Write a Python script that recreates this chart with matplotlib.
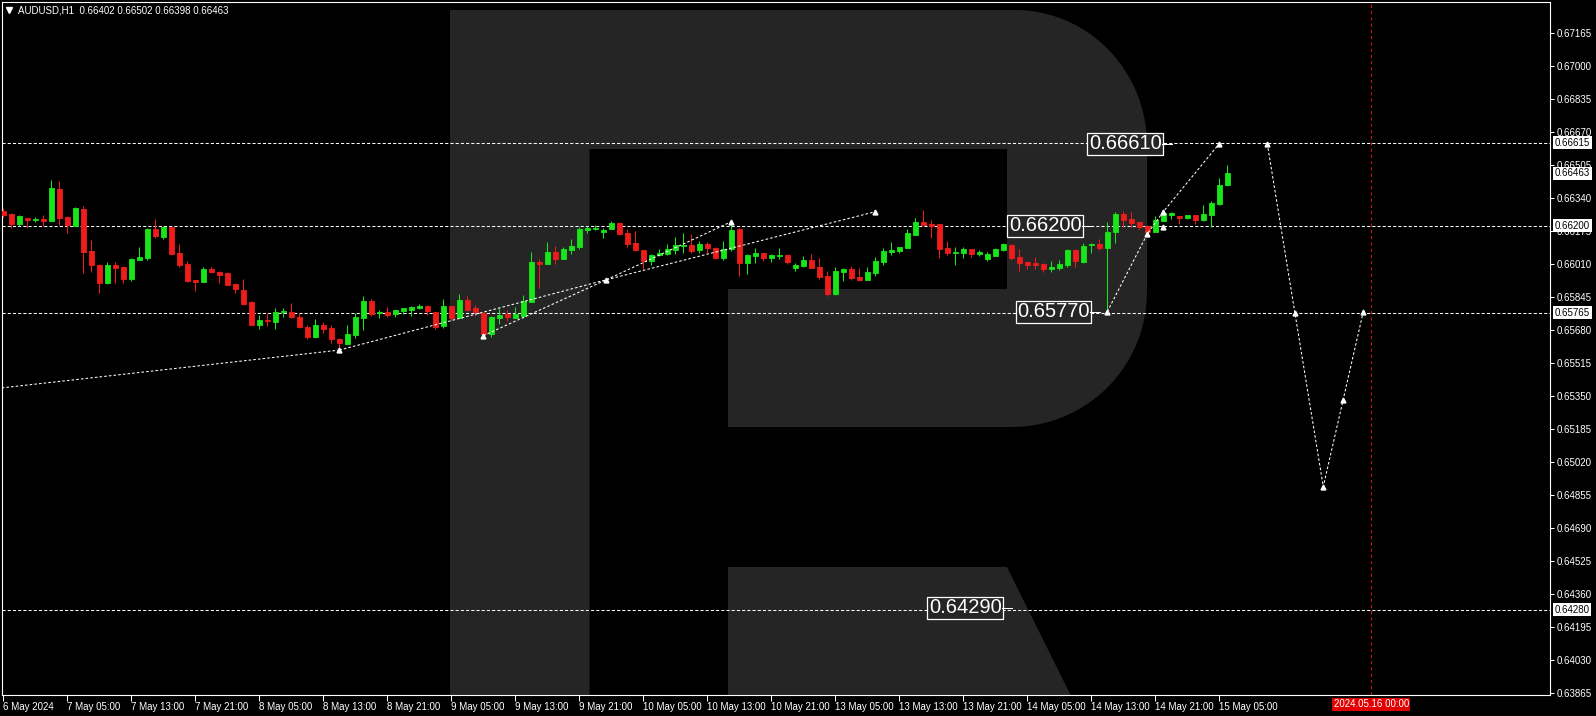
import matplotlib
matplotlib.use("Agg")
import matplotlib.pyplot as plt
import matplotlib.transforms as mtransforms
from matplotlib.patches import Polygon
import numpy as np

plt.rcParams['font.family'] = ['Liberation Sans', 'DejaVu Sans']

# AUDUSD H1 bars, 6 May 21:00 .. 15 May 06:00
opens = [
    0.66274, 0.66259, 0.66209, 0.66237, 0.66230, 0.66234, 0.66224, 0.66384, 0.66244, 0.66200,
    0.66284, 0.66074, 0.66004, 0.65915, 0.66004, 0.65994, 0.65935, 0.66030, 0.66040, 0.66184,
    0.66142, 0.66194, 0.66064, 0.66009, 0.65929, 0.65920, 0.65984, 0.65969, 0.65964, 0.65909,
    0.65879, 0.65819, 0.65704, 0.65729, 0.65719, 0.65767, 0.65769, 0.65744, 0.65694, 0.65645,
    0.65704, 0.65689, 0.65634, 0.65610, 0.65655, 0.65740, 0.65824, 0.65762, 0.65769, 0.65757,
    0.65774, 0.65780, 0.65790, 0.65799, 0.65767, 0.65699, 0.65799, 0.65740, 0.65829, 0.65790,
    0.65765, 0.65659, 0.65740, 0.65760, 0.65739, 0.65750, 0.65820, 0.66019, 0.66010, 0.66069,
    0.66035, 0.66079, 0.66094, 0.66179, 0.66184, 0.66169, 0.66185, 0.66214, 0.66164, 0.66114,
    0.66079, 0.66025, 0.66054, 0.66059, 0.66079, 0.66099, 0.66104, 0.66079, 0.66109, 0.66089,
    0.66040, 0.66084, 0.66184, 0.66014, 0.66049, 0.66064, 0.66039, 0.66049, 0.66054, 0.65990,
    0.65999, 0.66029, 0.65994, 0.65949, 0.65859, 0.65969, 0.65984, 0.65944, 0.65929, 0.65964,
    0.66019, 0.66069, 0.66074, 0.66089, 0.66155, 0.66219, 0.66209, 0.66209, 0.66090, 0.66065,
    0.66065, 0.66085, 0.66060, 0.66035, 0.66050, 0.66080, 0.66105, 0.66045, 0.66020, 0.66015,
    0.66010, 0.65985, 0.65990, 0.66005, 0.66080, 0.66020, 0.66102, 0.66110, 0.66090, 0.66170,
    0.66260, 0.66235, 0.66220, 0.66199, 0.66170, 0.66225, 0.66255, 0.66250, 0.66240, 0.66255,
    0.66230, 0.66255, 0.66310, 0.66402]
highs = [
    0.66287, 0.66262, 0.66254, 0.66237, 0.66244, 0.66254, 0.66429, 0.66424, 0.66249, 0.66295,
    0.66299, 0.66129, 0.66007, 0.66017, 0.66017, 0.65999, 0.66040, 0.66094, 0.66189, 0.66234,
    0.66200, 0.66194, 0.66107, 0.66024, 0.65929, 0.65992, 0.65992, 0.65974, 0.65969, 0.65915,
    0.65934, 0.65824, 0.65754, 0.65762, 0.65790, 0.65790, 0.65815, 0.65765, 0.65702, 0.65734,
    0.65719, 0.65704, 0.65637, 0.65704, 0.65762, 0.65849, 0.65832, 0.65779, 0.65794, 0.65779,
    0.65789, 0.65799, 0.65809, 0.65804, 0.65767, 0.65834, 0.65799, 0.65859, 0.65849, 0.65804,
    0.65770, 0.65749, 0.65789, 0.65779, 0.65794, 0.65854, 0.66069, 0.66034, 0.66119, 0.66099,
    0.66092, 0.66134, 0.66192, 0.66199, 0.66204, 0.66187, 0.66224, 0.66219, 0.66182, 0.66174,
    0.66079, 0.66059, 0.66084, 0.66109, 0.66144, 0.66164, 0.66159, 0.66124, 0.66119, 0.66094,
    0.66124, 0.66215, 0.66189, 0.66059, 0.66089, 0.66069, 0.66059, 0.66089, 0.66059, 0.66014,
    0.66049, 0.66059, 0.66039, 0.65974, 0.65994, 0.65989, 0.65999, 0.65989, 0.65994, 0.66044,
    0.66089, 0.66119, 0.66094, 0.66184, 0.66239, 0.66279, 0.66229, 0.66209, 0.66125, 0.66095,
    0.66095, 0.66085, 0.66080, 0.66070, 0.66090, 0.66115, 0.66110, 0.66085, 0.66025, 0.66045,
    0.66015, 0.66025, 0.66030, 0.66085, 0.66085, 0.66115, 0.66115, 0.66135, 0.66219, 0.66270,
    0.66275, 0.66270, 0.66220, 0.66205, 0.66250, 0.66275, 0.66270, 0.66250, 0.66255, 0.66255,
    0.66305, 0.66325, 0.66440, 0.66502]
lows = [
    0.66245, 0.66190, 0.66199, 0.66190, 0.66220, 0.66199, 0.66224, 0.66204, 0.66165, 0.66200,
    0.65965, 0.65970, 0.65862, 0.65907, 0.65915, 0.65915, 0.65925, 0.66027, 0.66027, 0.66140,
    0.66135, 0.66060, 0.65995, 0.65920, 0.65875, 0.65920, 0.65962, 0.65915, 0.65905, 0.65865,
    0.65804, 0.65704, 0.65682, 0.65699, 0.65682, 0.65745, 0.65737, 0.65687, 0.65634, 0.65640,
    0.65662, 0.65615, 0.65579, 0.65610, 0.65637, 0.65679, 0.65750, 0.65740, 0.65745, 0.65745,
    0.65760, 0.65750, 0.65784, 0.65755, 0.65684, 0.65690, 0.65729, 0.65740, 0.65772, 0.65750,
    0.65645, 0.65645, 0.65710, 0.65725, 0.65739, 0.65739, 0.65820, 0.65890, 0.66010, 0.66010,
    0.66035, 0.66060, 0.66085, 0.66162, 0.66179, 0.66140, 0.66185, 0.66160, 0.66095, 0.66075,
    0.65984, 0.66005, 0.66047, 0.66054, 0.66059, 0.66064, 0.66064, 0.66062, 0.66065, 0.66040,
    0.66030, 0.66074, 0.65949, 0.65959, 0.66014, 0.66024, 0.66019, 0.66034, 0.66009, 0.65974,
    0.65994, 0.65989, 0.65934, 0.65849, 0.65854, 0.65924, 0.65929, 0.65924, 0.65929, 0.65949,
    0.66004, 0.66054, 0.66064, 0.66089, 0.66155, 0.66204, 0.66140, 0.66040, 0.66055, 0.66005,
    0.66040, 0.66045, 0.66050, 0.66025, 0.66050, 0.66075, 0.66030, 0.65975, 0.65985, 0.65985,
    0.65970, 0.65970, 0.65980, 0.65995, 0.65995, 0.66015, 0.66065, 0.66080, 0.65770, 0.66115,
    0.66195, 0.66195, 0.66185, 0.66150, 0.66170, 0.66225, 0.66235, 0.66210, 0.66235, 0.66210,
    0.66225, 0.66195, 0.66305, 0.66398]
closes = [
    0.66254, 0.66209, 0.66249, 0.66229, 0.66234, 0.66224, 0.66389, 0.66240, 0.66202, 0.66289,
    0.66070, 0.66004, 0.65915, 0.66004, 0.65990, 0.65935, 0.66034, 0.66045, 0.66184, 0.66150,
    0.66194, 0.66060, 0.66005, 0.65925, 0.65920, 0.65984, 0.65970, 0.65955, 0.65905, 0.65882,
    0.65810, 0.65704, 0.65729, 0.65724, 0.65769, 0.65774, 0.65745, 0.65695, 0.65645, 0.65704,
    0.65684, 0.65632, 0.65615, 0.65659, 0.65744, 0.65824, 0.65760, 0.65770, 0.65755, 0.65779,
    0.65789, 0.65794, 0.65800, 0.65772, 0.65695, 0.65799, 0.65740, 0.65829, 0.65779, 0.65767,
    0.65659, 0.65744, 0.65754, 0.65744, 0.65760, 0.65824, 0.66019, 0.66010, 0.66069, 0.66035,
    0.66084, 0.66099, 0.66184, 0.66190, 0.66189, 0.66180, 0.66214, 0.66160, 0.66110, 0.66080,
    0.66025, 0.66054, 0.66064, 0.66084, 0.66104, 0.66104, 0.66074, 0.66109, 0.66089, 0.66040,
    0.66084, 0.66179, 0.66014, 0.66054, 0.66064, 0.66039, 0.66054, 0.66054, 0.66019, 0.66004,
    0.66029, 0.65989, 0.65944, 0.65859, 0.65974, 0.65984, 0.65939, 0.65929, 0.65969, 0.66024,
    0.66074, 0.66079, 0.66094, 0.66164, 0.66219, 0.66204, 0.66200, 0.66085, 0.66065, 0.66070,
    0.66085, 0.66060, 0.66070, 0.66060, 0.66085, 0.66110, 0.66040, 0.66015, 0.66005, 0.66005,
    0.65985, 0.65995, 0.66010, 0.66080, 0.66025, 0.66100, 0.66110, 0.66090, 0.66170, 0.66260,
    0.66230, 0.66215, 0.66195, 0.66170, 0.66230, 0.66265, 0.66265, 0.66240, 0.66255, 0.66230,
    0.66260, 0.66315, 0.66405, 0.66463]

tick_idx = [0, 8, 16, 24, 32, 40, 48, 56, 64, 72, 80, 88, 96, 104, 112, 120, 128, 136, 144, 152]
tick_labels = ["6 May 2024", "7 May 05:00", "7 May 13:00", "7 May 21:00", "8 May 05:00",
               "8 May 13:00", "8 May 21:00", "9 May 05:00", "9 May 13:00", "9 May 21:00",
               "10 May 05:00", "10 May 13:00", "10 May 21:00", "13 May 05:00", "13 May 13:00",
               "13 May 21:00", "14 May 05:00", "14 May 13:00", "14 May 21:00", "15 May 05:00"]
price_ticks = [0.67165, 0.67000, 0.66835, 0.66670, 0.66505, 0.66340, 0.66175, 0.66010,
               0.65845, 0.65680, 0.65515, 0.65350, 0.65185, 0.65020, 0.64855, 0.64690,
               0.64525, 0.64360, 0.64195, 0.64030, 0.63865]

# horizontal levels and current bid
level_prices = [0.66615, 0.66200, 0.65765, 0.64280]
bid = 0.66463

# future separator
sep_idx = 171
sep_label = "2024.05.16 00:00"

# text labels on the chart
label_text = ["0.66610", "0.66200", "0.65770", "0.64290"]
label_price = [0.66610, 0.66200, 0.65770, 0.64290]
label_right = [144.8, 134.8, 135.8, 124.8]

# old wave markup
old_segments = [
    ([-0.2, 42.0], [0.65389, 0.65578]),
    ([42.0, 75.4], [0.65578, 0.65930]),
    ([60.0, 75.4], [0.65650, 0.65930]),
    ([75.4, 91.0], [0.65930, 0.66220]),
    ([75.4, 109.0], [0.65930, 0.66270]),
]
old_mark_x = [42.0, 60.0, 75.4, 91.0, 109.0]
old_mark_y = [0.65578, 0.65650, 0.65930, 0.66220, 0.66270]

# forecast
fc_up_x = [138, 143, 145, 152]
fc_up_y = [0.65770, 0.66159, 0.66270, 0.66610]
fc_down_x = [158, 165, 170]
fc_down_y = [0.66610, 0.64895, 0.65770]
fc_mark_x = [138, 143, 145, 145, 152, 158, 161.5, 165, 167.5, 170]
fc_mark_y = [0.65770, 0.66159, 0.66270, 0.66195, 0.66610, 0.66610, 0.65765, 0.64895, 0.65330, 0.65770]

BULL = '#19e619'
BEAR = '#f01c1c'
LOGO = '#252525'
W, H = 1596, 716

fig = plt.figure(figsize=(W / 100, H / 100), dpi=100, facecolor='black')
ax = fig.add_axes([2 / W, 21 / H, 1548 / W, 693 / H])
ax.set_facecolor('black')
ax.set_xlim(-0.1625, 193.34)
ax.set_ylim(0.638535, 0.673185)

# watermark R in figure pixels (y down)
px = mtransforms.Affine2D().scale(1 / W, -1 / H).translate(0, 1) + fig.transFigure
t1 = np.linspace(np.pi / 2, 0, 24)
t2 = np.linspace(0, -np.pi / 2, 24)
outer = [(450, 10)]
outer += list(zip(1015 + 132 * np.cos(t1), 145 - 135 * np.sin(t1)))
outer += list(zip(1012 + 135 * np.cos(t2), 292 - 135 * np.sin(t2)))
outer += [(728, 427), (728, 289), (1007, 289), (1007, 149), (589.5, 149), (589.5, 720), (450, 720)]
leg = [(728, 567), (1007, 567), (1083, 720), (728, 720)]
for pts in (outer, leg):
    ax.add_patch(Polygon(pts, closed=True, fc=LOGO, ec='none', transform=px, zorder=0.5))

# level lines
for p in level_prices:
    ax.axhline(p, color='white', lw=0.75, ls=(0, (3, 2)), zorder=2)
ax.axvline(sep_idx, color='#d81010', lw=0.75, ls=(0, (3, 3)), zorder=2)

# candles
o = np.array(opens)
c = np.array(closes)
idx = np.arange(len(o))
cols = [BULL if cc >= oo else BEAR for oo, cc in zip(o, c)]
ax.vlines(idx, lows, highs, colors=cols, lw=0.75, zorder=3)
ax.bar(idx, np.abs(c - o), bottom=np.minimum(o, c), width=0.56, color=cols,
       edgecolor=cols, linewidth=0.6, zorder=4)

# old markup + forecast
for xs, ys in old_segments:
    ax.plot(xs, ys, color='white', lw=0.75, ls=(0, (2.5, 2)), zorder=5)
ax.plot(old_mark_x, old_mark_y, ls='none', marker='^', ms=3.5, color='white', zorder=5)
ax.plot(fc_up_x, fc_up_y, color='white', lw=0.75, ls=(0, (2.5, 2)), zorder=5)
ax.plot(fc_down_x, fc_down_y, color='white', lw=0.75, ls=(0, (2.5, 2)), zorder=5)
ax.plot(fc_mark_x, fc_mark_y, ls='none', marker='^', ms=3.5, color='white', zorder=5)

# big labels
for txt, p, rx in zip(label_text, label_price, label_right):
    ax.text(rx, p, txt, ha='right', va='center', fontsize=14.5, color='white', zorder=6,
            bbox=dict(boxstyle='square,pad=0.08', fc=LOGO, ec='white', lw=0.9))
    ax.plot([rx + 0.1, rx + 1.3], [p, p], color='white', lw=0.75, zorder=6)

# axes look
for s in ax.spines.values():
    s.set_color('white')
    s.set_linewidth(0.8)
ax.yaxis.tick_right()
ax.set_yticks(price_ticks)
ax.set_yticklabels([f'{v:.5f}' for v in price_ticks])
ax.tick_params(axis='y', colors='white', length=3, width=0.75, pad=1.5, labelsize=7)
ax.set_xticks(tick_idx)
ax.set_xticklabels(tick_labels)
ax.tick_params(axis='x', colors='white', length=4, width=0.75, pad=1.2, labelsize=7)
for lbl in ax.get_xticklabels():
    lbl.set_ha('left')

# price tags on the scale
ytr = mtransforms.blended_transform_factory(ax.transAxes, ax.transData)
for p in level_prices + [bid]:
    ax.text(1.0032, p, f'{p:.5f}', transform=ytr, ha='left', va='center', fontsize=7,
            color='black', clip_on=False, zorder=7,
            bbox=dict(boxstyle='square,pad=0.15', fc='white', ec='none'))

xtr = mtransforms.blended_transform_factory(ax.transData, ax.transAxes)
ax.text(sep_idx, -0.0135, sep_label, transform=xtr, ha='center', va='center', fontsize=7,
        color='white', clip_on=False, zorder=7,
        bbox=dict(boxstyle='square,pad=0.15', fc='#e00000', ec='none'))

# header
ax.plot([0.0048], [0.9878], marker='v', ms=4.5, color='white', transform=ax.transAxes, clip_on=False)
ax.text(0.0101, 0.9874, f'AUDUSD,H1  {opens[-1]:.5f} {highs[-1]:.5f} {lows[-1]:.5f} {closes[-1]:.5f}',
        transform=ax.transAxes, ha='left', va='center', fontsize=7, color='white')

fig.savefig('out.png', dpi=100, facecolor='black')
